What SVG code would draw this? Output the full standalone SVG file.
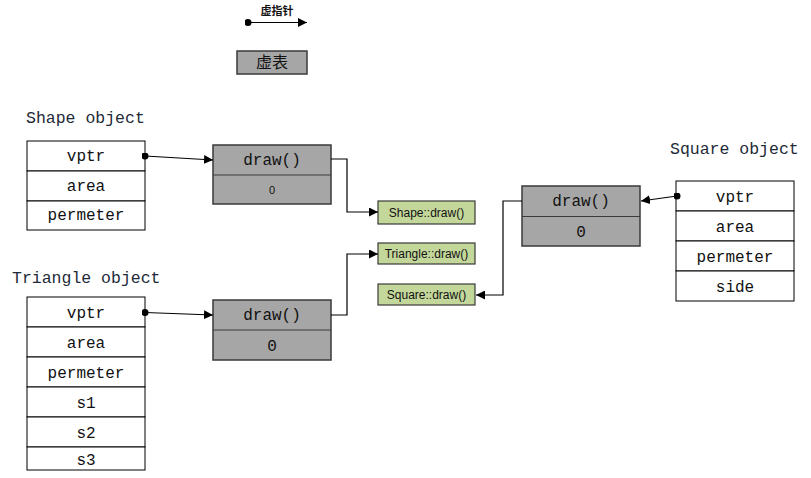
<svg xmlns="http://www.w3.org/2000/svg" width="811" height="478" viewBox="0 0 811 478">
  <style>
    .bg { fill: #ffffff; }
    .cell { fill: #ffffff; stroke: #000000; stroke-width: 1; }
    .vt { fill: #a6a6a6; stroke: #3a3a3a; stroke-width: 1.5; }
    .fn { fill: #c4d79b; stroke: #3a3a3a; stroke-width: 1.2; }
    .mono { font-family: "Liberation Mono", "DejaVu Sans Mono", monospace; font-size: 16px; fill: #111111; text-anchor: middle; }
    .title { font-family: "Liberation Mono", "DejaVu Sans Mono", monospace; font-size: 16.5px; fill: #1e2a38; }
    .sans { font-family: "Liberation Sans", Arial, sans-serif; font-size: 12px; fill: #111111; text-anchor: middle; }
    .small { font-family: "Liberation Sans", Arial, sans-serif; font-size: 11px; fill: #111111; text-anchor: middle; }
    .cjk { font-family: "Noto Sans CJK SC", "Noto Sans CJK JP", sans-serif; fill: #111111; text-anchor: middle; }
    .wire { fill: none; stroke: #000000; stroke-width: 1.2; }
  </style>
  <defs>
    <marker id="arrow" viewBox="0 0 10 10" refX="10" refY="5" markerWidth="9" markerHeight="9" markerUnits="userSpaceOnUse" orient="auto">
      <path d="M0,0 L10,5 L0,10 Z" fill="#000000"/>
    </marker>
    <marker id="dot" viewBox="0 0 10 10" refX="5" refY="5" markerWidth="7" markerHeight="7" markerUnits="userSpaceOnUse">
      <circle cx="5" cy="5" r="5" fill="#000000"/>
    </marker>
  </defs>

  <rect class="bg" x="0" y="0" width="811" height="478"/>

  <!-- legend -->
  <g id="legend-pointer">
    <text class="cjk" x="277" y="15" font-size="11" font-weight="bold">虚指针</text>
  </g>
  <g id="legend-vtable">
    <rect class="vt" x="237" y="51" width="70" height="23"/>
    <text class="cjk" x="272" y="68" font-size="16">虚表</text>
  </g>

  <!-- Shape object -->
  <g id="shape-object">
    <text class="title" x="26" y="123">Shape object</text>
    <rect class="cell" x="27" y="141" width="118" height="30"/>
    <rect class="cell" x="27" y="171" width="118" height="30"/>
    <rect class="cell" x="27" y="201" width="118" height="29"/>
    <text class="mono" x="86" y="161">vptr</text>
    <text class="mono" x="86" y="191">area</text>
    <text class="mono" x="86" y="220">permeter</text>
  </g>

  <g id="shape-vtable">
    <rect class="vt" x="213" y="145" width="118" height="59"/>
    <line x1="213" y1="175" x2="331" y2="175" stroke="#3a3a3a" stroke-width="1.2"/>
    <text class="mono" x="272" y="165">draw()</text>
    <text class="small" x="272" y="194">0</text>
  </g>

  <!-- Triangle object -->
  <g id="triangle-object">
    <text class="title" x="12" y="283">Triangle object</text>
    <rect class="cell" x="27" y="297" width="118" height="30"/>
    <rect class="cell" x="27" y="327" width="118" height="30"/>
    <rect class="cell" x="27" y="357" width="118" height="30"/>
    <rect class="cell" x="27" y="387" width="118" height="30"/>
    <rect class="cell" x="27" y="417" width="118" height="30"/>
    <rect class="cell" x="27" y="447" width="118" height="23"/>
    <text class="mono" x="86" y="318">vptr</text>
    <text class="mono" x="86" y="348">area</text>
    <text class="mono" x="86" y="378">permeter</text>
    <text class="mono" x="86" y="408">s1</text>
    <text class="mono" x="86" y="438">s2</text>
    <text class="mono" x="86" y="465">s3</text>
  </g>

  <g id="triangle-vtable">
    <rect class="vt" x="213" y="300" width="118" height="60"/>
    <line x1="213" y1="330" x2="331" y2="330" stroke="#3a3a3a" stroke-width="1.2"/>
    <text class="mono" x="272" y="320">draw()</text>
    <text class="mono" x="272" y="351">0</text>
  </g>

  <!-- Square object -->
  <g id="square-object">
    <text class="title" x="670" y="154">Square object</text>
    <rect class="cell" x="676" y="181" width="118" height="30"/>
    <rect class="cell" x="676" y="211" width="118" height="30"/>
    <rect class="cell" x="676" y="241" width="118" height="30"/>
    <rect class="cell" x="676" y="271" width="118" height="30"/>
    <text class="mono" x="735" y="202">vptr</text>
    <text class="mono" x="735" y="232">area</text>
    <text class="mono" x="735" y="262">permeter</text>
    <text class="mono" x="735" y="292">side</text>
  </g>

  <g id="square-vtable">
    <rect class="vt" x="522" y="186" width="118" height="60"/>
    <line x1="522" y1="216.5" x2="640" y2="216.5" stroke="#3a3a3a" stroke-width="1.2"/>
    <text class="mono" x="581" y="206">draw()</text>
    <text class="mono" x="581" y="237">0</text>
  </g>

  <!-- function implementations -->
  <g id="fn-shape-draw">
    <rect class="fn" x="378" y="201" width="97" height="23"/>
    <text class="sans" x="426.5" y="217">Shape::draw()</text>
  </g>
  <g id="fn-triangle-draw">
    <rect class="fn" x="378" y="243" width="97" height="21"/>
    <text class="sans" x="426.5" y="258">Triangle::draw()</text>
  </g>
  <g id="fn-square-draw">
    <rect class="fn" x="378" y="284" width="97" height="21"/>
    <text class="sans" x="426.5" y="299">Square::draw()</text>
  </g>

  <!-- connectors -->
  <g id="connectors">
    <line class="wire" x1="248" y1="22.5" x2="307" y2="22.5" marker-start="url(#dot)" marker-end="url(#arrow)"/>
    <line class="wire" x1="145" y1="156" x2="213" y2="160" marker-start="url(#dot)" marker-end="url(#arrow)"/>
    <line class="wire" x1="145" y1="312.5" x2="213" y2="315" marker-start="url(#dot)" marker-end="url(#arrow)"/>
    <line class="wire" x1="677" y1="196" x2="641" y2="201" marker-start="url(#dot)" marker-end="url(#arrow)"/>
    <polyline class="wire" points="331,159 347,159 347,212 378,212" marker-end="url(#arrow)"/>
    <polyline class="wire" points="331,315 347,315 347,254 378,254" marker-end="url(#arrow)"/>
    <polyline class="wire" points="522,201 503,201 503,295 476,295" marker-end="url(#arrow)"/>
  </g>
</svg>
